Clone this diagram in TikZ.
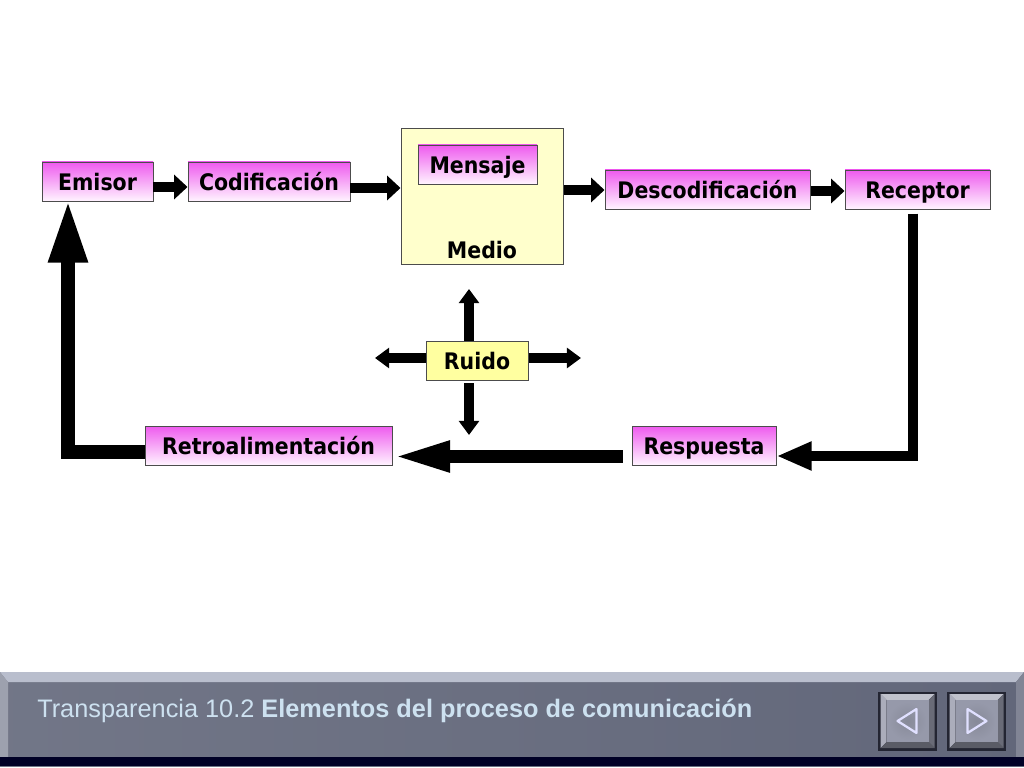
\documentclass[tikz,border=0pt]{standalone}
\usepackage{fontspec}
\usepackage{tikz}
\usetikzlibrary{arrows.meta}
\setmainfont{Liberation Sans}
\newfontfamily\cajafont{DejaVu Sans Condensed}
\definecolor{rosa}{RGB}{238,90,238}
\definecolor{rosaclaro}{RGB}{255,244,255}
\definecolor{amarillo}{RGB}{255,255,160}
\definecolor{amarilloclaro}{RGB}{255,255,204}
\definecolor{barra}{RGB}{98,103,122}
\definecolor{bisel}{RGB}{185,190,205}
\definecolor{textobarra}{RGB}{205,225,240}
\definecolor{boton}{RGB}{150,153,170}
\definecolor{botonborde}{RGB}{35,37,50}

\begin{document}
\begin{tikzpicture}[x=0.025cm, y=-0.025cm,
    caja/.style={draw=black!70, line width=0.7pt, top color=rosa, bottom color=rosaclaro,
        inner sep=0pt, minimum height=39*0.025cm, text height=13.5pt, text depth=0pt,
        font=\cajafont\bfseries\fontsize{16.2}{19}\selectfont},
    cajaruido/.style={caja, top color=amarillo, bottom color=amarillo},
    flechita/.style={line width=7.8pt, -{Triangle[length=9.5pt, width=17pt]}},
    flecharuido/.style={line width=7pt, -{Triangle[length=10pt, width=14pt]}},
    flechalazo/.style={line width=7.8pt, -{Triangle[length=25pt, width=19pt]}},
    flechagrande/.style={line width=9.2pt, -{Triangle[length=41pt, width=20pt]}},
    flechaemisor/.style={line width=10pt, -{Triangle[length=45pt, width=25.6pt]}}]
        \useasboundingbox (0,0) rectangle (1024,768);
        % Draw medium box
        \node[draw=black!70, line width=0.7pt, fill=amarilloclaro, minimum width=162*0.025cm,
            minimum height=136*0.025cm] (medio) at (482,196) {};
        \node[caja, draw=none, shade=none, fill=none] (mediotxt) at (482,249) {Medio};
        % Draw boxes
        \node[caja, minimum width=111*0.025cm] (emisor) at (97.5,181.5) {Emisor};
        \node[caja, minimum width=162*0.025cm] (codif) at (269,181.5) {Codificación};
        \node[caja, minimum width=119*0.025cm] (mensaje) at (477.5,164.5) {Mensaje};
        \node[caja, minimum width=205*0.025cm] (descod) at (707.5,189.5) {Descodificación};
        \node[caja, minimum width=145*0.025cm] (receptor) at (917.5,189.5) {Receptor};
        \node[cajaruido, minimum width=102*0.025cm] (ruido) at (477,360.5) {Ruido};
        \node[caja, minimum width=247*0.025cm] (retro) at (268.5,445.5) {Retroalimentación};
        \node[caja, minimum width=144*0.025cm] (respuesta) at (704,445.5) {Respuesta};
        % Draw top arrows
        \draw[flechita] (emisor.east |- 0,187) -- (codif.west |- 0,187);
        \draw[flechita] (codif.east |- 0,188) -- (medio.west |- 0,188);
        \draw[flechita] (medio.east |- 0,190) -- (descod.west |- 0,190);
        \draw[flechita] (descod.east |- 0,191) -- (receptor.west |- 0,191);
        % Draw noise arrows
        \coordinate (ruidoN) at (469,289);
        \coordinate (ruidoS) at (469,435);
        \coordinate (ruidoO) at (375,358);
        \coordinate (ruidoE) at (581,358);
        \draw[flecharuido] (ruido.north -| ruidoN) -- (ruidoN);
        \draw[flecharuido] ([yshift=-2pt]ruido.south -| ruidoS) -- (ruidoS);
        \draw[flecharuido] (ruido.west |- ruidoO) -- (ruidoO);
        \draw[flecharuido] (ruido.east |- ruidoE) -- (ruidoE);
        % Draw feedback loop
        \coordinate (esq1) at (913,456);
        \coordinate (esq2) at (68,452);
        \draw[flechalazo, shorten <=3pt] (receptor.south -| esq1) -- (esq1) -- (respuesta.east |- esq1);
        \draw[flechagrande, shorten <=6.4pt] (respuesta.west |- 0,456.5) -- (retro.east |- 0,456.5);
        \draw[flechaemisor, shorten >=-1.5pt] (retro.west |- esq2) -- (esq2) -- (esq2 |- emisor.south);
        % Draw bottom bar
        \shade[left color=barra!90!white, right color=barra] (0,672) rectangle (1024,766);
        \fill[bisel] (0,672) -- (1024,672) -- (1016,682) -- (8,682) -- cycle;
        \fill[bisel!85!black] (0,672) -- (8,682) -- (8,757) -- (0,765) -- cycle;
        \fill[barra!80!white] (1024,672) -- (1016,682) -- (1016,757) -- (1024,765) -- cycle;
        \fill[black!85!blue] (0,757) -- (1024,757) -- (1024,766) -- (0,766) -- cycle;
        \node[anchor=base west, inner sep=0pt, text=textobarra, font=\fontsize{18}{20}\selectfont] (titulo) at (37,717)
            {Transparencia 10.2 \textbf{Elementos del proceso de comunicación}};
        % Draw buttons
        \foreach \bx/\dir in {907.5/-1, 976.5/1} {
            \fill[botonborde] (\bx-29.5,692) rectangle (\bx+29.5,751);
            \fill[boton!60!white] (\bx-27,694) -- (\bx+27,694) -- (\bx+21,700) -- (\bx-21,700) -- cycle;
            \fill[boton!80!white] (\bx-27,694) -- (\bx-21,700) -- (\bx-21,742) -- (\bx-27,748) -- cycle;
            \fill[boton!70!black] (\bx+27,694) -- (\bx+21,700) -- (\bx+21,742) -- (\bx+27,748) -- cycle;
            \fill[boton!60!black] (\bx-27,748) -- (\bx-21,742) -- (\bx+21,742) -- (\bx+27,748) -- cycle;
            \fill[boton] (\bx-21,700) rectangle (\bx+21,742);
            \shade[inner color=boton!90!black, outer color=boton] (\bx,721) circle (19);
            \draw[white!88!blue, line width=1.6pt, line join=round]
                ({\bx+\dir*10},721) -- ({\bx-\dir*9},709) -- ({\bx-\dir*9},733) -- cycle;
        }
    \end{tikzpicture}
\end{document}
